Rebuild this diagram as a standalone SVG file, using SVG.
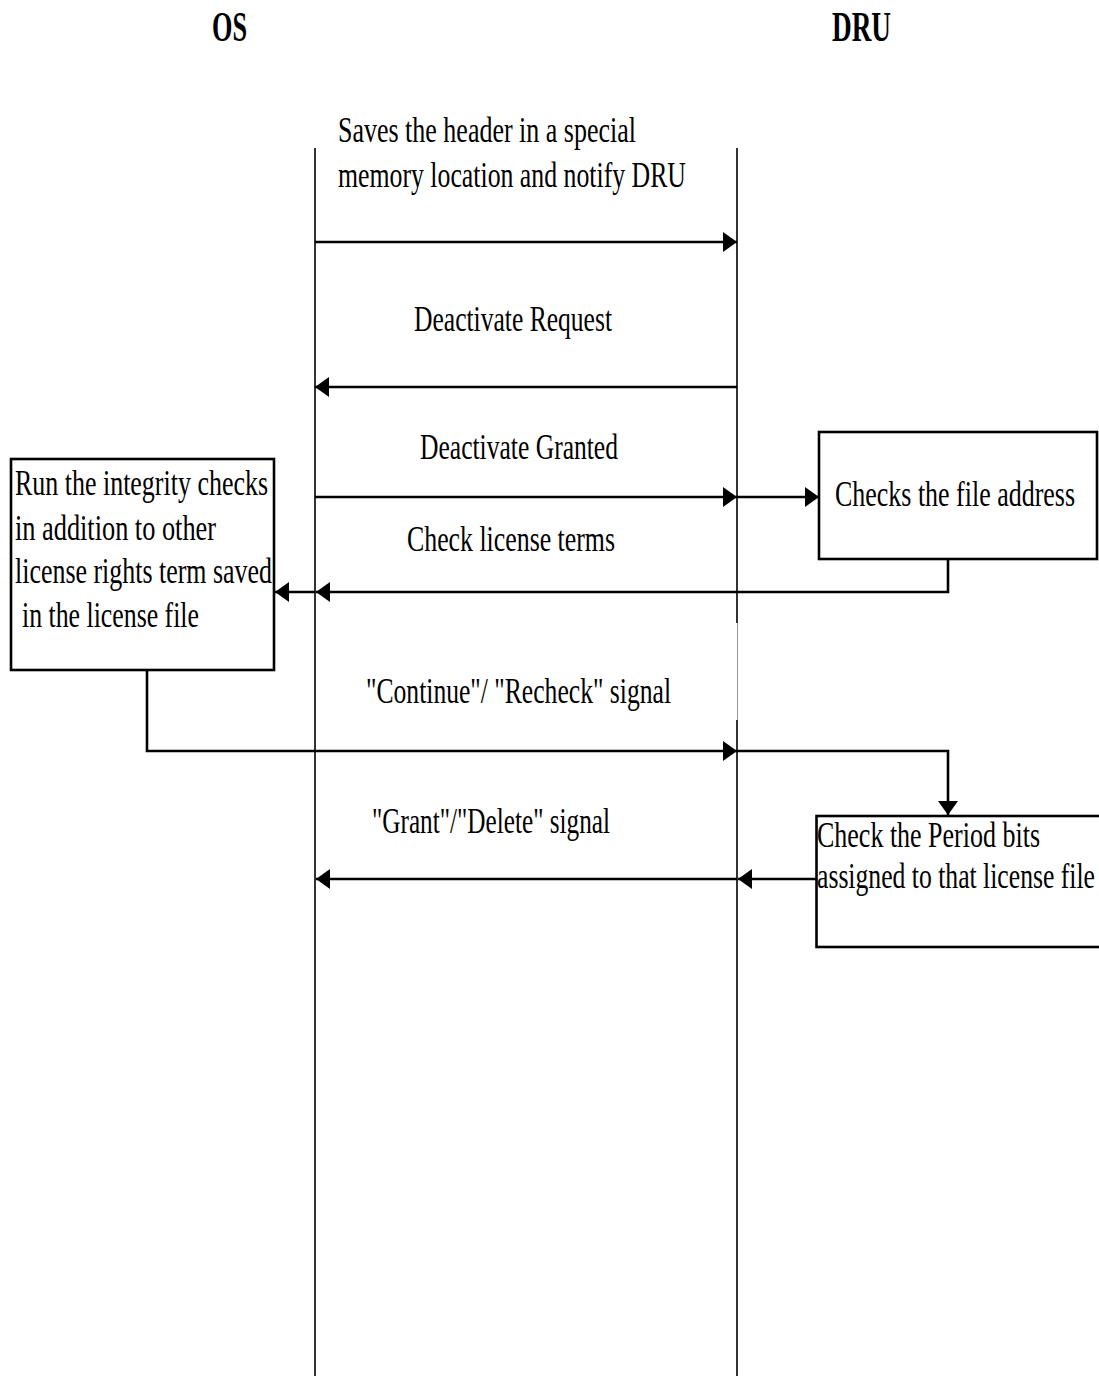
<svg xmlns="http://www.w3.org/2000/svg" width="1099" height="1376" viewBox="0 0 1099 1376">
  <style>
    .t { font-family: "Liberation Serif", "Times New Roman", serif; font-size: 36px; fill: #000; }
    .h { font-family: "Liberation Serif", "Times New Roman", serif; font-size: 42px; font-weight: bold; fill: #000; }
    .life { stroke: #000; stroke-width: 1.6; fill: none; }
    .msg { stroke: #000; stroke-width: 2.6; fill: none; marker-end: url(#arrow); }
    .box { fill: #fff; stroke: #000; stroke-width: 2.6; }
  </style>
  <defs>
    <marker id="arrow" markerUnits="userSpaceOnUse" markerWidth="14" markerHeight="20" refX="14" refY="10" orient="auto">
      <path d="M0,0 L14,10 L0,20 z" fill="#000"/>
    </marker>
  </defs>
  <rect width="1099" height="1376" fill="#fff"/>

  <!-- Lifeline headers -->
  <g id="os">
    <text class="h" x="212" y="41" textLength="35" lengthAdjust="spacingAndGlyphs">OS</text>
    <line class="life" x1="315" y1="148" x2="315" y2="1376"/>
  </g>
  <g id="dru">
    <text class="h" x="832" y="41" textLength="59" lengthAdjust="spacingAndGlyphs">DRU</text>
    <line class="life" x1="737" y1="148" x2="737" y2="623"/>
    <line x1="737.5" y1="623" x2="737.5" y2="720" stroke="#999" stroke-width="1"/>
    <line class="life" x1="737" y1="720" x2="737" y2="1376"/>
  </g>

  <!-- Process boxes -->
  <g id="integrity-box">
    <rect class="box" x="11" y="459" width="263" height="211"/>
    <text class="t" x="15" y="495" textLength="253" lengthAdjust="spacingAndGlyphs">Run the integrity checks</text>
    <text class="t" x="15" y="540" textLength="201" lengthAdjust="spacingAndGlyphs">in addition to other</text>
    <text class="t" x="15" y="583" textLength="257" lengthAdjust="spacingAndGlyphs">license rights term saved</text>
    <text class="t" x="22" y="627" textLength="177" lengthAdjust="spacingAndGlyphs">in the license file</text>
  </g>
  <g id="address-box">
    <rect class="box" x="819" y="432" width="278" height="127"/>
    <text class="t" x="835" y="506" textLength="240" lengthAdjust="spacingAndGlyphs">Checks the file address</text>
  </g>
  <g id="period-box">
    <rect class="box" x="816.5" y="816" width="290" height="131"/>
    <text class="t" x="817" y="847" textLength="223" lengthAdjust="spacingAndGlyphs">Check the Period bits</text>
    <text class="t" x="817" y="888" textLength="278" lengthAdjust="spacingAndGlyphs">assigned to that license file</text>
  </g>

  <!-- Message labels -->
  <g id="labels">
    <text class="t" x="338" y="142" textLength="298" lengthAdjust="spacingAndGlyphs">Saves the header in a special</text>
    <text class="t" x="338" y="187" textLength="348" lengthAdjust="spacingAndGlyphs">memory location and notify DRU</text>
    <text class="t" x="414" y="331" textLength="198" lengthAdjust="spacingAndGlyphs">Deactivate Request</text>
    <text class="t" x="420" y="459" textLength="198" lengthAdjust="spacingAndGlyphs">Deactivate Granted</text>
    <text class="t" x="407" y="551" textLength="208" lengthAdjust="spacingAndGlyphs">Check license terms</text>
    <text class="t" x="366" y="703" textLength="305" lengthAdjust="spacingAndGlyphs">"Continue"/ "Recheck" signal</text>
    <text class="t" x="372" y="833" textLength="238" lengthAdjust="spacingAndGlyphs">"Grant"/"Delete" signal</text>
  </g>

  <!-- Connectors -->
  <g id="connectors">
    <path class="msg" d="M315,242 H737"/>
    <path class="msg" d="M737,387 H315"/>
    <path class="msg" d="M315,497 H737"/>
    <path class="msg" d="M737,497 H819"/>
    <path class="msg" d="M948,559 V592 H316"/>
    <path class="msg" d="M315,592 H275"/>
    <path class="msg" d="M147,670 V751 H737"/>
    <path class="msg" d="M737,751 H948 V815"/>
    <path class="msg" d="M816,879 H738"/>
    <path class="msg" d="M737,879 H316"/>
  </g>
</svg>
